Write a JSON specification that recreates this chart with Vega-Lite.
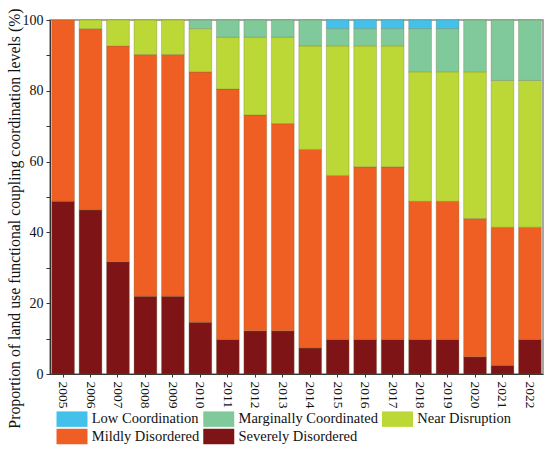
{
  "$schema": "https://vega.github.io/schema/vega-lite/v6.json",
  "width": 493,
  "height": 354,
  "autosize": {"type": "none"},
  "padding": {"left": 50, "top": 20, "right": 7, "bottom": 75},
  "background": "white",
  "data": {
    "values": [
      {"year": "2005", "level": "Severely Disordered", "rank": 1, "value": 48.78},
      {"year": "2005", "level": "Mildly Disordered", "rank": 2, "value": 51.22},
      {"year": "2006", "level": "Severely Disordered", "rank": 1, "value": 46.34},
      {"year": "2006", "level": "Mildly Disordered", "rank": 2, "value": 51.22},
      {"year": "2006", "level": "Near Disruption", "rank": 3, "value": 2.44},
      {"year": "2007", "level": "Severely Disordered", "rank": 1, "value": 31.71},
      {"year": "2007", "level": "Mildly Disordered", "rank": 2, "value": 60.98},
      {"year": "2007", "level": "Near Disruption", "rank": 3, "value": 7.32},
      {"year": "2008", "level": "Severely Disordered", "rank": 1, "value": 21.95},
      {"year": "2008", "level": "Mildly Disordered", "rank": 2, "value": 68.29},
      {"year": "2008", "level": "Near Disruption", "rank": 3, "value": 9.76},
      {"year": "2009", "level": "Severely Disordered", "rank": 1, "value": 21.95},
      {"year": "2009", "level": "Mildly Disordered", "rank": 2, "value": 68.29},
      {"year": "2009", "level": "Near Disruption", "rank": 3, "value": 9.76},
      {"year": "2010", "level": "Severely Disordered", "rank": 1, "value": 14.63},
      {"year": "2010", "level": "Mildly Disordered", "rank": 2, "value": 70.73},
      {"year": "2010", "level": "Near Disruption", "rank": 3, "value": 12.2},
      {"year": "2010", "level": "Marginally Coordinated", "rank": 4, "value": 2.44},
      {"year": "2011", "level": "Severely Disordered", "rank": 1, "value": 9.76},
      {"year": "2011", "level": "Mildly Disordered", "rank": 2, "value": 70.73},
      {"year": "2011", "level": "Near Disruption", "rank": 3, "value": 14.63},
      {"year": "2011", "level": "Marginally Coordinated", "rank": 4, "value": 4.88},
      {"year": "2012", "level": "Severely Disordered", "rank": 1, "value": 12.2},
      {"year": "2012", "level": "Mildly Disordered", "rank": 2, "value": 60.98},
      {"year": "2012", "level": "Near Disruption", "rank": 3, "value": 21.95},
      {"year": "2012", "level": "Marginally Coordinated", "rank": 4, "value": 4.88},
      {"year": "2013", "level": "Severely Disordered", "rank": 1, "value": 12.2},
      {"year": "2013", "level": "Mildly Disordered", "rank": 2, "value": 58.54},
      {"year": "2013", "level": "Near Disruption", "rank": 3, "value": 24.39},
      {"year": "2013", "level": "Marginally Coordinated", "rank": 4, "value": 4.88},
      {"year": "2014", "level": "Severely Disordered", "rank": 1, "value": 7.32},
      {"year": "2014", "level": "Mildly Disordered", "rank": 2, "value": 56.1},
      {"year": "2014", "level": "Near Disruption", "rank": 3, "value": 29.27},
      {"year": "2014", "level": "Marginally Coordinated", "rank": 4, "value": 7.32},
      {"year": "2015", "level": "Severely Disordered", "rank": 1, "value": 9.76},
      {"year": "2015", "level": "Mildly Disordered", "rank": 2, "value": 46.34},
      {"year": "2015", "level": "Near Disruption", "rank": 3, "value": 36.59},
      {"year": "2015", "level": "Marginally Coordinated", "rank": 4, "value": 4.88},
      {"year": "2015", "level": "Low Coordination", "rank": 5, "value": 2.44},
      {"year": "2016", "level": "Severely Disordered", "rank": 1, "value": 9.76},
      {"year": "2016", "level": "Mildly Disordered", "rank": 2, "value": 48.78},
      {"year": "2016", "level": "Near Disruption", "rank": 3, "value": 34.15},
      {"year": "2016", "level": "Marginally Coordinated", "rank": 4, "value": 4.88},
      {"year": "2016", "level": "Low Coordination", "rank": 5, "value": 2.44},
      {"year": "2017", "level": "Severely Disordered", "rank": 1, "value": 9.76},
      {"year": "2017", "level": "Mildly Disordered", "rank": 2, "value": 48.78},
      {"year": "2017", "level": "Near Disruption", "rank": 3, "value": 34.15},
      {"year": "2017", "level": "Marginally Coordinated", "rank": 4, "value": 4.88},
      {"year": "2017", "level": "Low Coordination", "rank": 5, "value": 2.44},
      {"year": "2018", "level": "Severely Disordered", "rank": 1, "value": 9.76},
      {"year": "2018", "level": "Mildly Disordered", "rank": 2, "value": 39.02},
      {"year": "2018", "level": "Near Disruption", "rank": 3, "value": 36.59},
      {"year": "2018", "level": "Marginally Coordinated", "rank": 4, "value": 12.2},
      {"year": "2018", "level": "Low Coordination", "rank": 5, "value": 2.44},
      {"year": "2019", "level": "Severely Disordered", "rank": 1, "value": 9.76},
      {"year": "2019", "level": "Mildly Disordered", "rank": 2, "value": 39.02},
      {"year": "2019", "level": "Near Disruption", "rank": 3, "value": 36.59},
      {"year": "2019", "level": "Marginally Coordinated", "rank": 4, "value": 12.2},
      {"year": "2019", "level": "Low Coordination", "rank": 5, "value": 2.44},
      {"year": "2020", "level": "Severely Disordered", "rank": 1, "value": 4.88},
      {"year": "2020", "level": "Mildly Disordered", "rank": 2, "value": 39.02},
      {"year": "2020", "level": "Near Disruption", "rank": 3, "value": 41.46},
      {"year": "2020", "level": "Marginally Coordinated", "rank": 4, "value": 14.63},
      {"year": "2021", "level": "Severely Disordered", "rank": 1, "value": 2.44},
      {"year": "2021", "level": "Mildly Disordered", "rank": 2, "value": 39.02},
      {"year": "2021", "level": "Near Disruption", "rank": 3, "value": 41.46},
      {"year": "2021", "level": "Marginally Coordinated", "rank": 4, "value": 17.07},
      {"year": "2022", "level": "Severely Disordered", "rank": 1, "value": 9.76},
      {"year": "2022", "level": "Mildly Disordered", "rank": 2, "value": 31.71},
      {"year": "2022", "level": "Near Disruption", "rank": 3, "value": 41.46},
      {"year": "2022", "level": "Marginally Coordinated", "rank": 4, "value": 17.07}
    ]
  },
  "mark": {"type": "bar", "strokeWidth": 0.6, "strokeOpacity": 0.5, "stroke": "#6b6b3a"},
  "encoding": {
    "x": {
      "field": "year",
      "type": "ordinal",
      "title": null,
      "scale": {"paddingInner": 0.17, "paddingOuter": 0.06},
      "axis": {
        "labelAngle": 90,
        "labelFont": "Liberation Serif",
        "labelFontSize": 13.5,
        "labelPadding": 4,
        "tickSize": 3,
        "labelBaseline": "middle",
        "labelAlign": "left"
      }
    },
    "y": {
      "field": "value",
      "type": "quantitative",
      "stack": "zero",
      "scale": {"domain": [0, 100], "nice": false},
      "axis": {
        "title": "Proportion of land use functional coupling coordination levels (%)",
        "titleFont": "Liberation Serif",
        "titleFontSize": 15.8,
        "titleFontWeight": "normal",
        "titleX": -36,
        "titleY": 198,
        "titleAngle": -90,
        "titleAlign": "center",
        "titleBaseline": "middle",
        "values": [0, 10, 20, 30, 40, 50, 60, 70, 80, 90, 100],
        "labelExpr": "datum.value % 20 == 0 ? datum.label : ''",
        "labelFont": "Liberation Serif",
        "labelFontSize": 14,
        "labelPadding": 3,
        "tickSize": 4
      }
    },
    "color": {
      "field": "level",
      "type": "nominal",
      "scale": {
        "domain": ["Low Coordination", "Marginally Coordinated", "Near Disruption", "Mildly Disordered", "Severely Disordered"],
        "range": ["#44C1EA", "#80C99A", "#BCD836", "#EF5E22", "#7F1416"]
      },
      "legend": {
        "title": null,
        "orient": "none",
        "legendX": 14,
        "legendY": 391,
        "direction": "horizontal",
        "columns": 3,
        "columnPadding": 2.75,
        "rowPadding": 1.5,
        "padding": 0,
        "symbolType": "M-2,-1h4v2h-4z",
        "symbolSize": 240,
        "symbolStrokeWidth": 0,
        "labelFont": "Liberation Serif",
        "labelFontSize": 14.5,
        "labelOffset": 11.75,
        "labelLimit": 300
      }
    },
    "order": {"field": "rank", "type": "quantitative", "sort": "ascending"}
  },
  "config": {
    "font": "Liberation Serif",
    "view": {"stroke": "#8a8a8a", "strokeWidth": 1.5},
    "axis": {
      "grid": false,
      "domainColor": "#333",
      "tickColor": "#333",
      "labelColor": "#111",
      "titleColor": "#111"
    },
    "legend": {"labelColor": "#111"}
  }
}
